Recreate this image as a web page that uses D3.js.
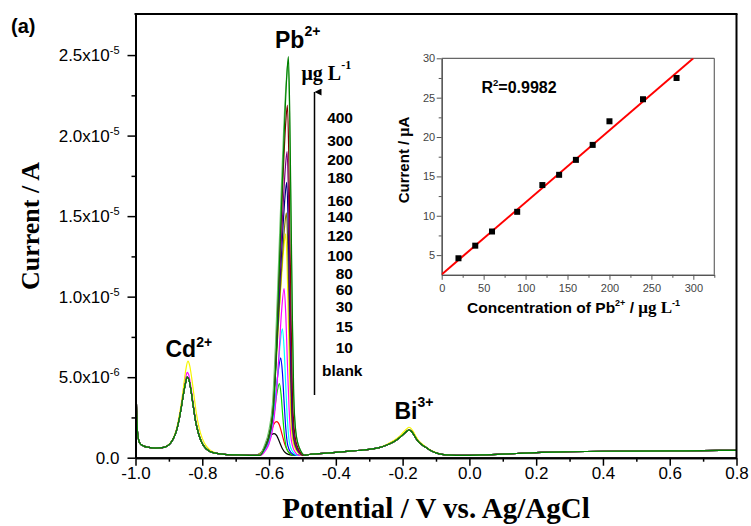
<!DOCTYPE html>
<html>
<head>
<meta charset="utf-8">
<script src="https://cdn.jsdelivr.net/npm/d3@7"></script>
<style>
  html, body { margin: 0; padding: 0; background: #fff; }
  svg { display: block; }
</style>
</head>
<body>
<svg id="chart" width="751" height="526"></svg>
<script>
// ---------- Data ----------
// Potential (V) / current (µA) pairs shared by all stripping curves outside the Pb window
const commonTrace = [
  [-1.000, 5.30], [-0.997, 3.20], [-0.994, 1.60], [-0.990, 1.05], [-0.985, 0.85],
  [-0.975, 0.72], [-0.960, 0.64], [-0.940, 0.60], [-0.920, 0.62], [-0.905, 0.72],
  [-0.895, 0.90], [-0.885, 1.25], [-0.877, 1.70], [-0.870, 2.30], [-0.863, 3.10],
  [-0.856, 4.00], [-0.850, 4.65], [-0.845, 5.00], [-0.840, 4.85], [-0.834, 4.20],
  [-0.827, 3.20], [-0.820, 2.25], [-0.812, 1.55], [-0.803, 1.00], [-0.793, 0.65],
  [-0.780, 0.42], [-0.765, 0.30], [-0.740, 0.22], [-0.700, 0.17], [-0.660, 0.15],
  [-0.480, 0.20], [-0.450, 0.25], [-0.400, 0.33], [-0.350, 0.42], [-0.300, 0.52],
  [-0.270, 0.63], [-0.245, 0.80], [-0.225, 1.00], [-0.210, 1.22], [-0.198, 1.45],
  [-0.188, 1.63], [-0.181, 1.72], [-0.175, 1.66], [-0.168, 1.48], [-0.160, 1.20],
  [-0.152, 0.98], [-0.143, 0.82], [-0.132, 0.66], [-0.120, 0.50], [-0.105, 0.34],
  [-0.090, 0.24], [-0.070, 0.18], [-0.040, 0.15], [0.000, 0.15], [0.050, 0.18],
  [0.100, 0.22], [0.150, 0.27], [0.200, 0.32], [0.300, 0.37], [0.400, 0.40],
  [0.500, 0.41], [0.600, 0.42], [0.700, 0.44], [0.800, 0.46]
];

// Pb stripping peak of each curve, [potential V, current µA]
const pbPeakTraces = [
  [[-0.645,0.15],[-0.630,0.23],[-0.620,0.39],[-0.610,0.72],[-0.600,1.16],[-0.592,1.43],[-0.585,1.50],[-0.577,1.37],[-0.569,0.99],[-0.560,0.56],[-0.550,0.29],[-0.540,0.19],[-0.525,0.15]],
  [[-0.637,0.15],[-0.622,0.28],[-0.612,0.53],[-0.602,1.03],[-0.592,1.72],[-0.584,2.14],[-0.577,2.24],[-0.569,2.03],[-0.561,1.45],[-0.552,0.78],[-0.542,0.36],[-0.532,0.21],[-0.517,0.15]],
  [[-0.639,0.15],[-0.624,0.28],[-0.614,0.46],[-0.604,0.82],[-0.594,1.57],[-0.585,2.73],[-0.577,3.93],[-0.569,4.60],[-0.564,3.93],[-0.559,2.60],[-0.554,1.40],[-0.548,0.60],[-0.539,0.28],[-0.524,0.15]],
  [[-0.635,0.15],[-0.620,0.33],[-0.610,0.57],[-0.600,1.06],[-0.590,2.09],[-0.581,3.66],[-0.573,5.29],[-0.565,6.20],[-0.560,5.29],[-0.555,3.48],[-0.550,1.84],[-0.544,0.76],[-0.535,0.33],[-0.520,0.15]],
  [[-0.630,0.15],[-0.615,0.39],[-0.605,0.70],[-0.595,1.33],[-0.585,2.66],[-0.576,4.70],[-0.568,6.82],[-0.560,8.00],[-0.555,6.82],[-0.550,4.47],[-0.545,2.35],[-0.539,0.94],[-0.530,0.39],[-0.515,0.15]],
  [[-0.625,0.15],[-0.610,0.46],[-0.600,0.87],[-0.590,1.70],[-0.580,3.46],[-0.571,6.15],[-0.563,8.95],[-0.555,10.50],[-0.550,8.95],[-0.545,5.84],[-0.540,3.05],[-0.534,1.19],[-0.525,0.46],[-0.510,0.15]],
  [[-0.635,0.15],[-0.620,0.43],[-0.605,0.98],[-0.595,1.80],[-0.585,4.00],[-0.578,6.34],[-0.570,8.95],[-0.562,11.43],[-0.555,13.21],[-0.550,13.90],[-0.546,11.98],[-0.542,8.40],[-0.538,4.83],[-0.534,2.21],[-0.528,0.98],[-0.518,0.43],[-0.500,0.15]],
  [[-0.633,0.15],[-0.618,0.45],[-0.603,1.05],[-0.593,1.96],[-0.583,4.36],[-0.576,6.92],[-0.568,9.78],[-0.560,12.49],[-0.553,14.45],[-0.548,15.20],[-0.544,13.09],[-0.540,9.18],[-0.536,5.27],[-0.532,2.41],[-0.526,1.05],[-0.516,0.45],[-0.498,0.15]],
  [[-0.632,0.15],[-0.617,0.49],[-0.602,1.17],[-0.592,2.18],[-0.582,4.90],[-0.575,7.78],[-0.567,11.00],[-0.559,14.05],[-0.552,16.25],[-0.547,17.10],[-0.543,14.73],[-0.539,10.32],[-0.535,5.91],[-0.531,2.69],[-0.525,1.17],[-0.515,0.49],[-0.497,0.15]],
  [[-0.631,0.15],[-0.616,0.53],[-0.601,1.28],[-0.591,2.41],[-0.581,5.43],[-0.574,8.63],[-0.566,12.21],[-0.558,15.61],[-0.551,18.06],[-0.546,19.00],[-0.542,16.36],[-0.538,11.46],[-0.534,6.56],[-0.530,2.98],[-0.524,1.28],[-0.514,0.53],[-0.496,0.15]],
  [[-0.630,0.15],[-0.615,0.59],[-0.600,1.46],[-0.590,2.76],[-0.580,6.24],[-0.573,9.94],[-0.565,14.07],[-0.557,17.99],[-0.550,20.81],[-0.545,21.90],[-0.541,18.86],[-0.537,13.20],[-0.533,7.55],[-0.529,3.41],[-0.523,1.46],[-0.513,0.59],[-0.495,0.15]],
  [[-0.630,0.15],[-0.615,0.70],[-0.600,1.75],[-0.590,3.30],[-0.580,7.40],[-0.572,11.80],[-0.564,16.30],[-0.556,20.50],[-0.548,23.50],[-0.543,24.60],[-0.539,21.60],[-0.535,15.60],[-0.531,9.30],[-0.527,4.30],[-0.521,1.80],[-0.511,0.72],[-0.492,0.15]],
  [[-0.627,0.15],[-0.612,0.65],[-0.597,1.64],[-0.587,3.12],[-0.577,7.08],[-0.570,11.29],[-0.562,15.99],[-0.554,20.45],[-0.547,23.66],[-0.542,24.90],[-0.538,21.44],[-0.534,15.00],[-0.530,8.57],[-0.526,3.86],[-0.520,1.64],[-0.510,0.65],[-0.492,0.15]]
];

const curveColors = ["#000000", "#ff0000", "#00dd00", "#0000ff", "#00ffff", "#ff00ff",
                     "#f5f500", "#808000", "#000080", "#800080", "#800000", "#6cc66c", "#008000"];

// Curves whose Cd / Bi peaks differ from the common trace
const cdPeakMagenta = [[-0.905,0.72],[-0.895,0.90],[-0.885,1.25],[-0.877,1.72],[-0.870,2.35],[-0.863,3.25],[-0.856,4.25],[-0.850,4.95],[-0.845,5.30],[-0.840,5.10],[-0.834,4.40],[-0.827,3.35],[-0.820,2.35],[-0.812,1.60],[-0.803,1.02],[-0.793,0.66],[-0.780,0.42],[-0.765,0.30]];
const cdPeakYellow = [[-0.905,0.74],[-0.895,0.93],[-0.885,1.30],[-0.877,1.80],[-0.870,2.50],[-0.862,3.50],[-0.855,4.60],[-0.849,5.50],[-0.843,6.00],[-0.838,5.75],[-0.832,5.00],[-0.825,3.90],[-0.818,2.80],[-0.810,1.90],[-0.800,1.20],[-0.790,0.78],[-0.778,0.50],[-0.765,0.34]];
const biPeakYellow = [[-0.245,0.85],[-0.225,1.08],[-0.210,1.32],[-0.198,1.58],[-0.188,1.78],[-0.181,1.89],[-0.175,1.82],[-0.168,1.62],[-0.160,1.32],[-0.152,1.06],[-0.143,0.88],[-0.132,0.70],[-0.120,0.53],[-0.105,0.36]];
const cdOverrides = { 5: cdPeakMagenta, 6: cdPeakYellow };
const biOverrides = { 6: biPeakYellow };

// Concentration labels (µg L-1), top to bottom
const concLabels = ["400", "300", "200", "180", "160", "140", "120", "100", "80", "60", "30", "15", "10", "blank"];

// Axis ticks
const xMajorTicks = [-1.0, -0.8, -0.6, -0.4, -0.2, 0.0, 0.2, 0.4, 0.6, 0.8];
const xTickLabels = ["-1.0", "-0.8", "-0.6", "-0.4", "-0.2", "0.0", "0.2", "0.4", "0.6", "0.8"];
const xMinorTicks = [-0.9, -0.7, -0.5, -0.3, -0.1, 0.1, 0.3, 0.5, 0.7];
const yMajorTicks = [0, 5, 10, 15, 20, 25];            // µA
const yTickMantissa = ["0.0", "5.0", "1.0", "1.5", "2.0", "2.5"];
const yTickExponent = [null, "-6", "-5", "-5", "-5", "-5"];
const yMinorTicks = [2.5, 7.5, 12.5, 17.5, 22.5];

// Calibration inset
const calibConc = [20, 40, 60, 90, 120, 140, 160, 180, 200, 240, 280];
const calibCurrent = [4.6, 6.2, 8.0, 10.5, 13.9, 15.2, 17.1, 19.0, 22.0, 24.8, 27.5];
const fitIntercept = 2.55;
const fitSlope = 0.0915;
const fitRange = [0, 300];
const insetXTicks = [0, 50, 100, 150, 200, 250, 300];
const insetXMinor = [25, 75, 125, 175, 225, 275, 325];
const insetYTicks = [5, 10, 15, 20, 25, 30];
const insetYMinor = [7.5, 12.5, 17.5, 22.5, 27.5];

// ---------- Layout ----------
const SANS = "'Liberation Sans', Arial, Helvetica, sans-serif";
const SERIF = "'Liberation Serif', 'Times New Roman', Times, serif";
const svg = d3.select("#chart");
const W = 751, H = 526;
const P = { left: 135.5, right: 736.5, top: 14, bottom: 457.7 };

svg.append("rect").attr("width", W).attr("height", H).attr("fill", "#fff");

const x = d3.scaleLinear().domain([-1.0, 0.8]).range([P.left, P.right]);
const y = d3.scaleLinear().domain([0, 27.55]).range([P.bottom, P.top]);

svg.append("clipPath").attr("id", "plotClip")
  .append("rect").attr("x", P.left).attr("y", P.top)
  .attr("width", P.right - P.left).attr("height", P.bottom - P.top);

// Merge the shared trace with per-curve peak segments
function buildTrace(i) {
  const pieces = [pbPeakTraces[i]];
  if (cdOverrides[i]) pieces.push(cdOverrides[i]);
  if (biOverrides[i]) pieces.push(biOverrides[i]);
  let pts = commonTrace.filter(p =>
    pieces.every(seg => p[0] < seg[0][0] || p[0] > seg[seg.length - 1][0]));
  pieces.forEach(seg => { pts = pts.concat(seg); });
  return pts.sort((a, b) => a[0] - b[0]);
}

const line = d3.line()
  .x(d => x(d[0]))
  .y(d => y(d[1]))
  .curve(d3.curveMonotoneX);

const curves = svg.append("g").attr("clip-path", "url(#plotClip)");
pbPeakTraces.forEach((_, i) => {
  curves.append("path")
    .datum(buildTrace(i))
    .attr("d", line)
    .attr("fill", "none")
    .attr("stroke", curveColors[i])
    .attr("stroke-width", 1.2)
    .attr("stroke-linejoin", "round");
});

// ---------- Axes ----------
const gxMinor = svg.append("g").attr("transform", `translate(0,${P.bottom})`)
  .call(d3.axisBottom(x).tickValues(xMinorTicks).tickSize(4).tickSizeOuter(0).tickFormat(""));
const gx = svg.append("g").attr("transform", `translate(0,${P.bottom})`)
  .call(d3.axisBottom(x).tickValues(xMajorTicks).tickSize(8).tickSizeOuter(0)
    .tickPadding(1.5).tickFormat((d, i) => xTickLabels[i]));

const gyMinor = svg.append("g").attr("transform", `translate(${P.left},0)`)
  .call(d3.axisLeft(y).tickValues(yMinorTicks).tickSize(4).tickSizeOuter(0).tickFormat(""));
const gy = svg.append("g").attr("transform", `translate(${P.left},0)`)
  .call(d3.axisLeft(y).tickValues(yMajorTicks).tickSize(8).tickSizeOuter(0)
    .tickPadding(8).tickFormat(""));

gy.selectAll(".tick text").each(function (d, i) {
  const t = d3.select(this);
  t.text(null);
  t.append("tspan").text(yTickMantissa[i] + (yTickExponent[i] ? "x10" : ""));
  if (yTickExponent[i]) {
    t.append("tspan").attr("dy", -7).attr("font-size", 11).text(yTickExponent[i]);
  }
});

[gx, gy, gxMinor, gyMinor].forEach(g => {
  g.select(".domain").attr("stroke", "#000").attr("stroke-width", 2);
  g.selectAll(".tick line").attr("stroke", "#000").attr("stroke-width", 1.5);
  g.selectAll(".tick text").attr("fill", "#000")
    .style("font-family", SANS).style("font-size", "17px");
});

// Frame top and right
svg.append("line").attr("x1", P.left - 1).attr("x2", P.right + 1)
  .attr("y1", P.top).attr("y2", P.top).attr("stroke", "#000").attr("stroke-width", 2);
svg.append("line").attr("x1", P.right).attr("x2", P.right)
  .attr("y1", P.top).attr("y2", P.bottom).attr("stroke", "#000").attr("stroke-width", 2);

// Axis titles
svg.append("text")
  .attr("x", (P.left + P.right) / 2).attr("y", 518)
  .attr("text-anchor", "middle")
  .style("font-family", SERIF).style("font-weight", "bold").style("font-size", "29px")
  .text("Potential / V vs. Ag/AgCl");

svg.append("text")
  .attr("transform", "translate(39,226) rotate(-90)")
  .attr("text-anchor", "middle")
  .style("font-family", SERIF).style("font-weight", "bold").style("font-size", "26px")
  .text("Current / A");

// Panel letter
svg.append("text").attr("x", 11).attr("y", 33)
  .style("font-family", SANS).style("font-weight", "bold").style("font-size", "20px")
  .text("(a)");

// Ion labels
function ionLabel(px, py, base, charge, supDy) {
  const t = svg.append("text").attr("x", px).attr("y", py)
    .style("font-family", SANS).style("font-weight", "bold").style("font-size", "23px");
  t.append("tspan").text(base);
  t.append("tspan").attr("dy", supDy).style("font-size", "14px").text(charge);
}
ionLabel(275, 47.7, "Pb", "2+", -12);
ionLabel(165.5, 356.7, "Cd", "2+", -10);
ionLabel(394.5, 419.3, "Bi", "3+", -12);

// Concentration series annotation
const unit = svg.append("text").attr("x", 301.5).attr("y", 79.5)
  .style("font-family", SERIF).style("font-weight", "bold").style("font-size", "20px");
unit.append("tspan").text("\u03bcg L");
unit.append("tspan").attr("dy", -11).style("font-size", "12px").text("-1");

svg.append("defs").append("marker")
  .attr("id", "arrowHead").attr("viewBox", "0 0 10 10")
  .attr("refX", 5).attr("refY", 0).attr("markerWidth", 7).attr("markerHeight", 9)
  .attr("markerUnits", "userSpaceOnUse").attr("orient", "auto-start-reverse")
  .append("path").attr("d", "M0,10 L5,0 L10,10 Z").attr("fill", "#000");
svg.append("line").attr("x1", 314.5).attr("x2", 314.5).attr("y1", 395).attr("y2", 92)
  .attr("stroke", "#000").attr("stroke-width", 1.5)
  .attr("marker-end", "url(#arrowHead)");

const labelBaselines = [123.3, 146, 165, 182.7, 205.7, 221.7, 240.7, 260.7, 278.5, 295.2, 311.5, 331.5, 353.3, 376];
concLabels.forEach((lab, i) => {
  const isBlank = lab === "blank";
  svg.append("text")
    .attr("x", isBlank ? 322 : 353)
    .attr("y", labelBaselines[i])
    .attr("text-anchor", isBlank ? "start" : "end")
    .style("font-family", SANS).style("font-weight", "bold").style("font-size", "15.5px")
    .text(lab);
});

// ---------- Calibration inset ----------
const I = { left: 441.7, right: 714.3, top: 58.3, bottom: 274.8 };
const ix = d3.scaleLinear().domain([0, 325]).range([I.left, I.right]);
const iy = d3.scaleLinear().domain([2.5, 30]).range([I.bottom, I.top]);
const inset = svg.append("g");

inset.append("clipPath").attr("id", "insetClip")
  .append("rect").attr("x", I.left).attr("y", I.top)
  .attr("width", I.right - I.left).attr("height", I.bottom - I.top);

const INSET_AXIS = "#555";
const ixMinor = inset.append("g").attr("transform", `translate(0,${I.bottom})`)
  .call(d3.axisBottom(ix).tickValues(insetXMinor).tickSize(3).tickSizeOuter(0).tickFormat(""));
const ixMajor = inset.append("g").attr("transform", `translate(0,${I.bottom})`)
  .call(d3.axisBottom(ix).tickValues(insetXTicks).tickSize(5).tickSizeOuter(0).tickPadding(4));
const iyMinor = inset.append("g").attr("transform", `translate(${I.left},0)`)
  .call(d3.axisLeft(iy).tickValues(insetYMinor).tickSize(3).tickSizeOuter(0).tickFormat(""));
const iyMajor = inset.append("g").attr("transform", `translate(${I.left},0)`)
  .call(d3.axisLeft(iy).tickValues(insetYTicks).tickSize(5).tickSizeOuter(0).tickPadding(1.5));
[ixMinor, ixMajor, iyMinor, iyMajor].forEach(g => {
  g.select(".domain").attr("stroke", INSET_AXIS).attr("stroke-width", 1.2);
  g.selectAll(".tick line").attr("stroke", INSET_AXIS).attr("stroke-width", 1);
  g.selectAll(".tick text").attr("fill", "#444")
    .style("font-family", SANS).style("font-size", "11px");
});
inset.append("line").attr("x1", I.left).attr("x2", I.right).attr("y1", I.top).attr("y2", I.top)
  .attr("stroke", "#666").attr("stroke-width", 1.2);
inset.append("line").attr("x1", I.right).attr("x2", I.right).attr("y1", I.top).attr("y2", I.bottom)
  .attr("stroke", "#666").attr("stroke-width", 1.2);

// Linear fit
inset.append("line")
  .attr("clip-path", "url(#insetClip)")
  .attr("x1", ix(fitRange[0])).attr("y1", iy(fitIntercept + fitSlope * fitRange[0]))
  .attr("x2", ix(fitRange[1])).attr("y2", iy(fitIntercept + fitSlope * fitRange[1]))
  .attr("stroke", "#ff0000").attr("stroke-width", 2);

// Measured points
inset.selectAll("rect.pt").data(calibConc).enter().append("rect")
  .attr("class", "pt")
  .attr("x", (d) => ix(d) - 3)
  .attr("y", (d, i) => iy(calibCurrent[i]) - 3)
  .attr("width", 6).attr("height", 6).attr("fill", "#000");

// Inset labels
const r2 = inset.append("text").attr("x", 481.5).attr("y", 93.3)
  .style("font-family", SANS).style("font-weight", "bold").style("font-size", "16px");
r2.append("tspan").text("R");
r2.append("tspan").attr("dy", -7).style("font-size", "9.5px").text("2");
r2.append("tspan").attr("dy", 7).text("=0.9982");

const iyTitle = inset.append("text")
  .attr("transform", "translate(409,160) rotate(-90)")
  .attr("text-anchor", "middle")
  .style("font-family", SANS).style("font-weight", "bold").style("font-size", "15px");
iyTitle.append("tspan").text("Current / ");
iyTitle.append("tspan").style("font-family", SERIF).style("font-size", "16px").text("\u03bc");
iyTitle.append("tspan").text("A");

const ixTitle = inset.append("text").attr("x", 467).attr("y", 313.3)
  .style("font-family", SANS).style("font-weight", "bold").style("font-size", "15.5px");
ixTitle.append("tspan").text("Concentration of Pb");
ixTitle.append("tspan").attr("dy", -7).style("font-size", "9px").text("2+");
ixTitle.append("tspan").attr("dy", 7).text(" / ");
ixTitle.append("tspan").style("font-family", SERIF).style("font-size", "17px").text("\u03bcg L");
ixTitle.append("tspan").attr("dy", -7).style("font-size", "9px").text("-1");
</script>
</body>
</html>
